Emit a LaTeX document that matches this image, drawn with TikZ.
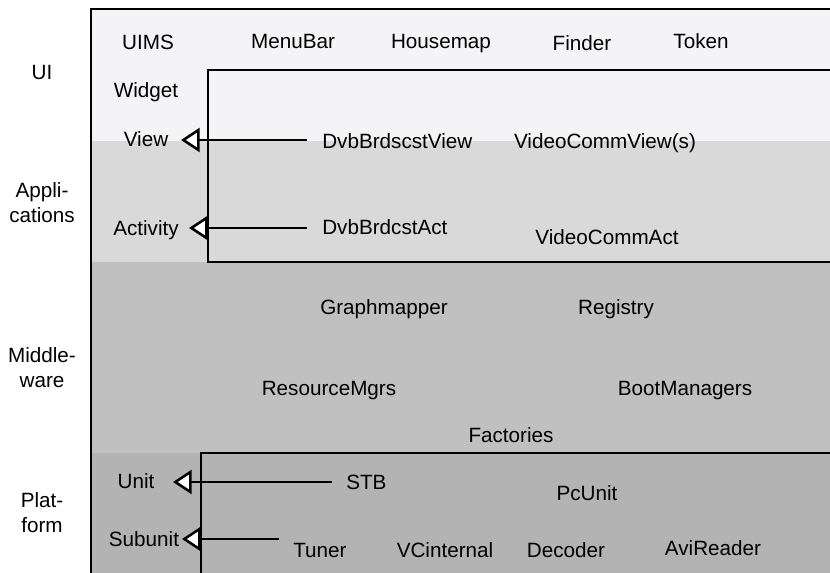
\documentclass[tikz,border=0pt]{standalone}
\usepackage{fontspec}
\setmainfont{Liberation Sans}
\usetikzlibrary{arrows.meta}
\definecolor{uibg}{HTML}{F4F4F6}
\definecolor{appbg}{HTML}{D9D9D9}
\definecolor{midbg}{HTML}{C0C0C0}
\definecolor{platbg}{HTML}{B3B3B3}
\tikzset{
  lbl/.style={anchor=base, inner sep=0pt, font=\fontsize{15.5}{18.75}\selectfont},
  side/.style={lbl, align=center},
  frame/.style={draw=black, line width=2.2pt},
  inner/.style={draw=black, line width=2pt},
  arr/.style={draw=black, line width=1.9pt, -{Triangle[open, length=14pt 0 0, width=18pt 0 0, fill=white]}}
}
\begin{document}
\begin{tikzpicture}[x=0.75pt, y=-0.75pt]
\useasboundingbox (0,0) rectangle (830,572);
\clip (0,0) rectangle (830,572);
% bands
\fill[uibg] (91,9) rectangle (840,141);
\fill[appbg] (91,141) rectangle (840,262);
\fill[midbg] (91,262) rectangle (840,453);
\fill[platbg] (91,453) rectangle (840,580);
% frames
\draw[frame] (91,580) -- (91,9) -- (840,9);
\draw[inner] (840,70) -- (208,70) -- (208,262) -- (840,262);
\draw[inner] (201,580) -- (201,453) -- (840,453);
% side labels
\node[side] (ui) at (42,79) {UI};
\node[side] (apps) at (42,222) {Appli-\\cations};
\node[side] (mid) at (42,387) {Middle-\\ware};
\node[side] (plat) at (42,532) {Plat-\\form};
% UI row
\node[lbl] (uims) at (148,49) {UIMS};
\node[lbl] (menubar) at (293,48) {MenuBar};
\node[lbl] (housemap) at (441,48) {Housemap};
\node[lbl] (finder) at (582,50) {Finder};
\node[lbl] (token) at (701,48) {Token};
\node[lbl] (widget) at (146,97) {Widget};
\node[lbl] (view) at (146,146) {View};
\node[lbl] (activity) at (146,235) {Activity};
\node[lbl, anchor=base west] (dvbv) at (322,148) {DvbBrdscstView};
\node[lbl] (vcv) at (605,148) {VideoCommView(s)};
\node[lbl, anchor=base west] (dvba) at (322,234) {DvbBrdcstAct};
\node[lbl] (vca) at (607,244) {VideoCommAct};
% middleware
\node[lbl] (graph) at (384,314) {Graphmapper};
\node[lbl] (reg) at (616,314) {Registry};
\node[lbl] (res) at (329,395) {ResourceMgrs};
\node[lbl] (boot) at (685,395) {BootManagers};
\node[lbl] (fact) at (511,442) {Factories};
% platform
\node[lbl] (unit) at (136,488) {Unit};
\node[lbl, anchor=base west] (stb) at (346,489) {STB};
\node[lbl] (pcunit) at (587,500) {PcUnit};
\node[lbl] (subunit) at (144,546) {Subunit};
\node[lbl, anchor=base west] (tuner) at (293,557) {Tuner};
\node[lbl] (vcint) at (445,557) {VCinternal};
\node[lbl] (decoder) at (566,557) {Decoder};
\node[lbl] (avi) at (713,555) {AviReader};
% arrows
\coordinate (viewtip) at (181,140);
\coordinate (acttip) at (189,228);
\coordinate (unittip) at (173,482);
\coordinate (subtip) at (182,539);
\draw[arr] ([xshift=-11.25pt]dvbv.west |- viewtip) -- (viewtip);
\draw[arr] ([xshift=-11.25pt]dvba.west |- acttip) -- (acttip);
\draw[arr] ([xshift=-10.5pt]stb.west |- unittip) -- (unittip);
\draw[arr] ([xshift=-10.5pt]tuner.west |- subtip) -- (subtip);
\end{tikzpicture}
\end{document}
